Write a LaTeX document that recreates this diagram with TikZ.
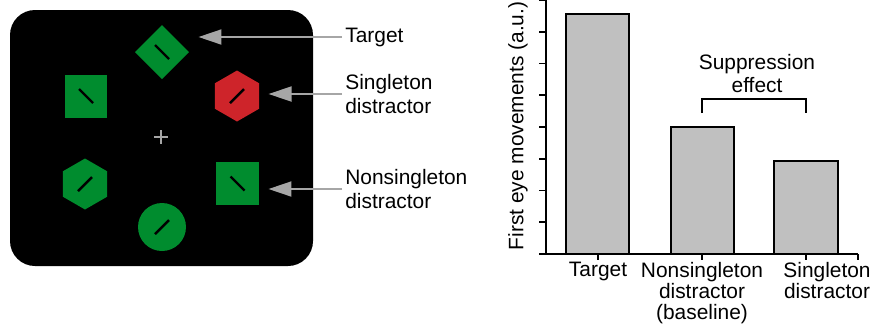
\documentclass[tikz,border=0pt]{standalone}
\usepackage{fontspec}
\setmainfont{Liberation Sans}
\usetikzlibrary{shapes.geometric,arrows.meta}

\definecolor{stimgreen}{RGB}{0,140,46}
\definecolor{stimred}{RGB}{206,36,42}
\definecolor{pointgray}{RGB}{166,166,166}
\definecolor{barfill}{RGB}{192,192,192}

\tikzset{
  item/.style={fill=stimgreen,inner sep=0pt,outer sep=0pt},
  hexitem/.style={item,regular polygon,regular polygon sides=6,
    shape border rotate=30,minimum size=1.02cm},
  sqitem/.style={item,rectangle,minimum size=0.86cm},
  slant/.style={line width=1.4pt,black},
  pointer/.style={line width=1.1pt,pointgray,shorten <=0.06cm,shorten >=0.19cm,
    -{Triangle[length=0.46cm,width=0.30cm]}},
  lbl/.style={font=\fontsize{11.9}{13.6}\selectfont,inner sep=0pt},
  xlbl/.style={font=\fontsize{11.9}{11.9}\selectfont,inner sep=0pt,anchor=north,align=center},
  axis/.style={line width=1.1pt,black},
  bar/.style={line width=1.1pt,draw=black,fill=barfill}
}

\begin{document}
\begin{tikzpicture}[x=0.02cm,y=-0.02cm]
  \useasboundingbox (0,0) rectangle (875,326);

  %% Display panel
  \fill[black,rounded corners=0.5cm] (10,10) rectangle (313,266);

  %% Search items
  \node[item,diamond,minimum width=1.08cm,minimum height=1.08cm] (target) at (162,52) {};
  \node[sqitem] (sqa) at (86,96) {};
  \node[hexitem,fill=stimred] (single) at (237,96) {};
  \node[hexitem] (hexb) at (85,184) {};
  \node[sqitem] (sqb) at (237.5,183.5) {};
  \node[item,circle,minimum size=0.96cm] (circ) at (162,227) {};

  %% Lines inside the items
  \draw[slant] (target) ++(-7,-7) -- ++(14,14);
  \draw[slant] (sqa) ++(-7,-7) -- ++(14,14);
  \draw[slant] (single) ++(-7,7) -- ++(14,-14);
  \draw[slant] (hexb) ++(-7,7) -- ++(14,-14);
  \draw[slant] (sqb) ++(-7,-7) -- ++(14,14);
  \draw[slant] (circ) ++(-7,7) -- ++(14,-14);

  %% Fixation cross
  \coordinate (fix) at (161,137);
  \draw[line width=1.1pt,pointgray] (fix) ++(-7,0) -- ++(14,0);
  \draw[line width=1.1pt,pointgray] (fix) ++(0,-7) -- ++(0,14);

  %% Labels and pointers
  \node[lbl,anchor=west] (tlabel) at (345,37) {Target};
  \node[lbl,anchor=west,align=left] (slabel) at (345,94) {Singleton\\distractor};
  \node[lbl,anchor=west,align=left] (nlabel) at (345,189) {Nonsingleton\\distractor};
  \draw[pointer] (tlabel.west) -- (tlabel.west -| target.east);
  \draw[pointer] (slabel.west) -- (slabel.west -| single.east);
  \draw[pointer] (nlabel.west) -- (nlabel.west -| sqb.east);

  %% Bars
  \draw[bar] (566,254) rectangle (629,14);
  \draw[bar] (671,254) rectangle (734,127);
  \draw[bar] (774,254) rectangle (838,161);

  %% Axes and ticks
  \draw[axis] (546,0) -- (546,254);
  \draw[axis] (539,254) -- (858,254);
  \foreach \k in {1,...,8}
    \draw[axis] (539,{254-\k*31.75}) -- (546,{254-\k*31.75});
  \foreach \x in {598,702,806,858}
    \draw[axis] (\x,254) -- (\x,260);

  %% Suppression bracket
  \draw[axis] (702,113) -- (702,99) -- (806,99) -- (806,113);
  \node[xlbl,font=\fontsize{11.9}{13}\selectfont] (supp) at (757,54) {Suppression\\effect};

  %% Axis labels
  \node[lbl,rotate=90] (ylab) at (518,126) {First eye movements (a.u.)};
  \node[xlbl] (xla) at (598,262) {Target};
  \node[xlbl] (xlb) at (702,262) {Nonsingleton\\distractor\\(baseline)};
  \node[xlbl] (xlc) at (827,262) {Singleton\\distractor};

\end{tikzpicture}
\end{document}
